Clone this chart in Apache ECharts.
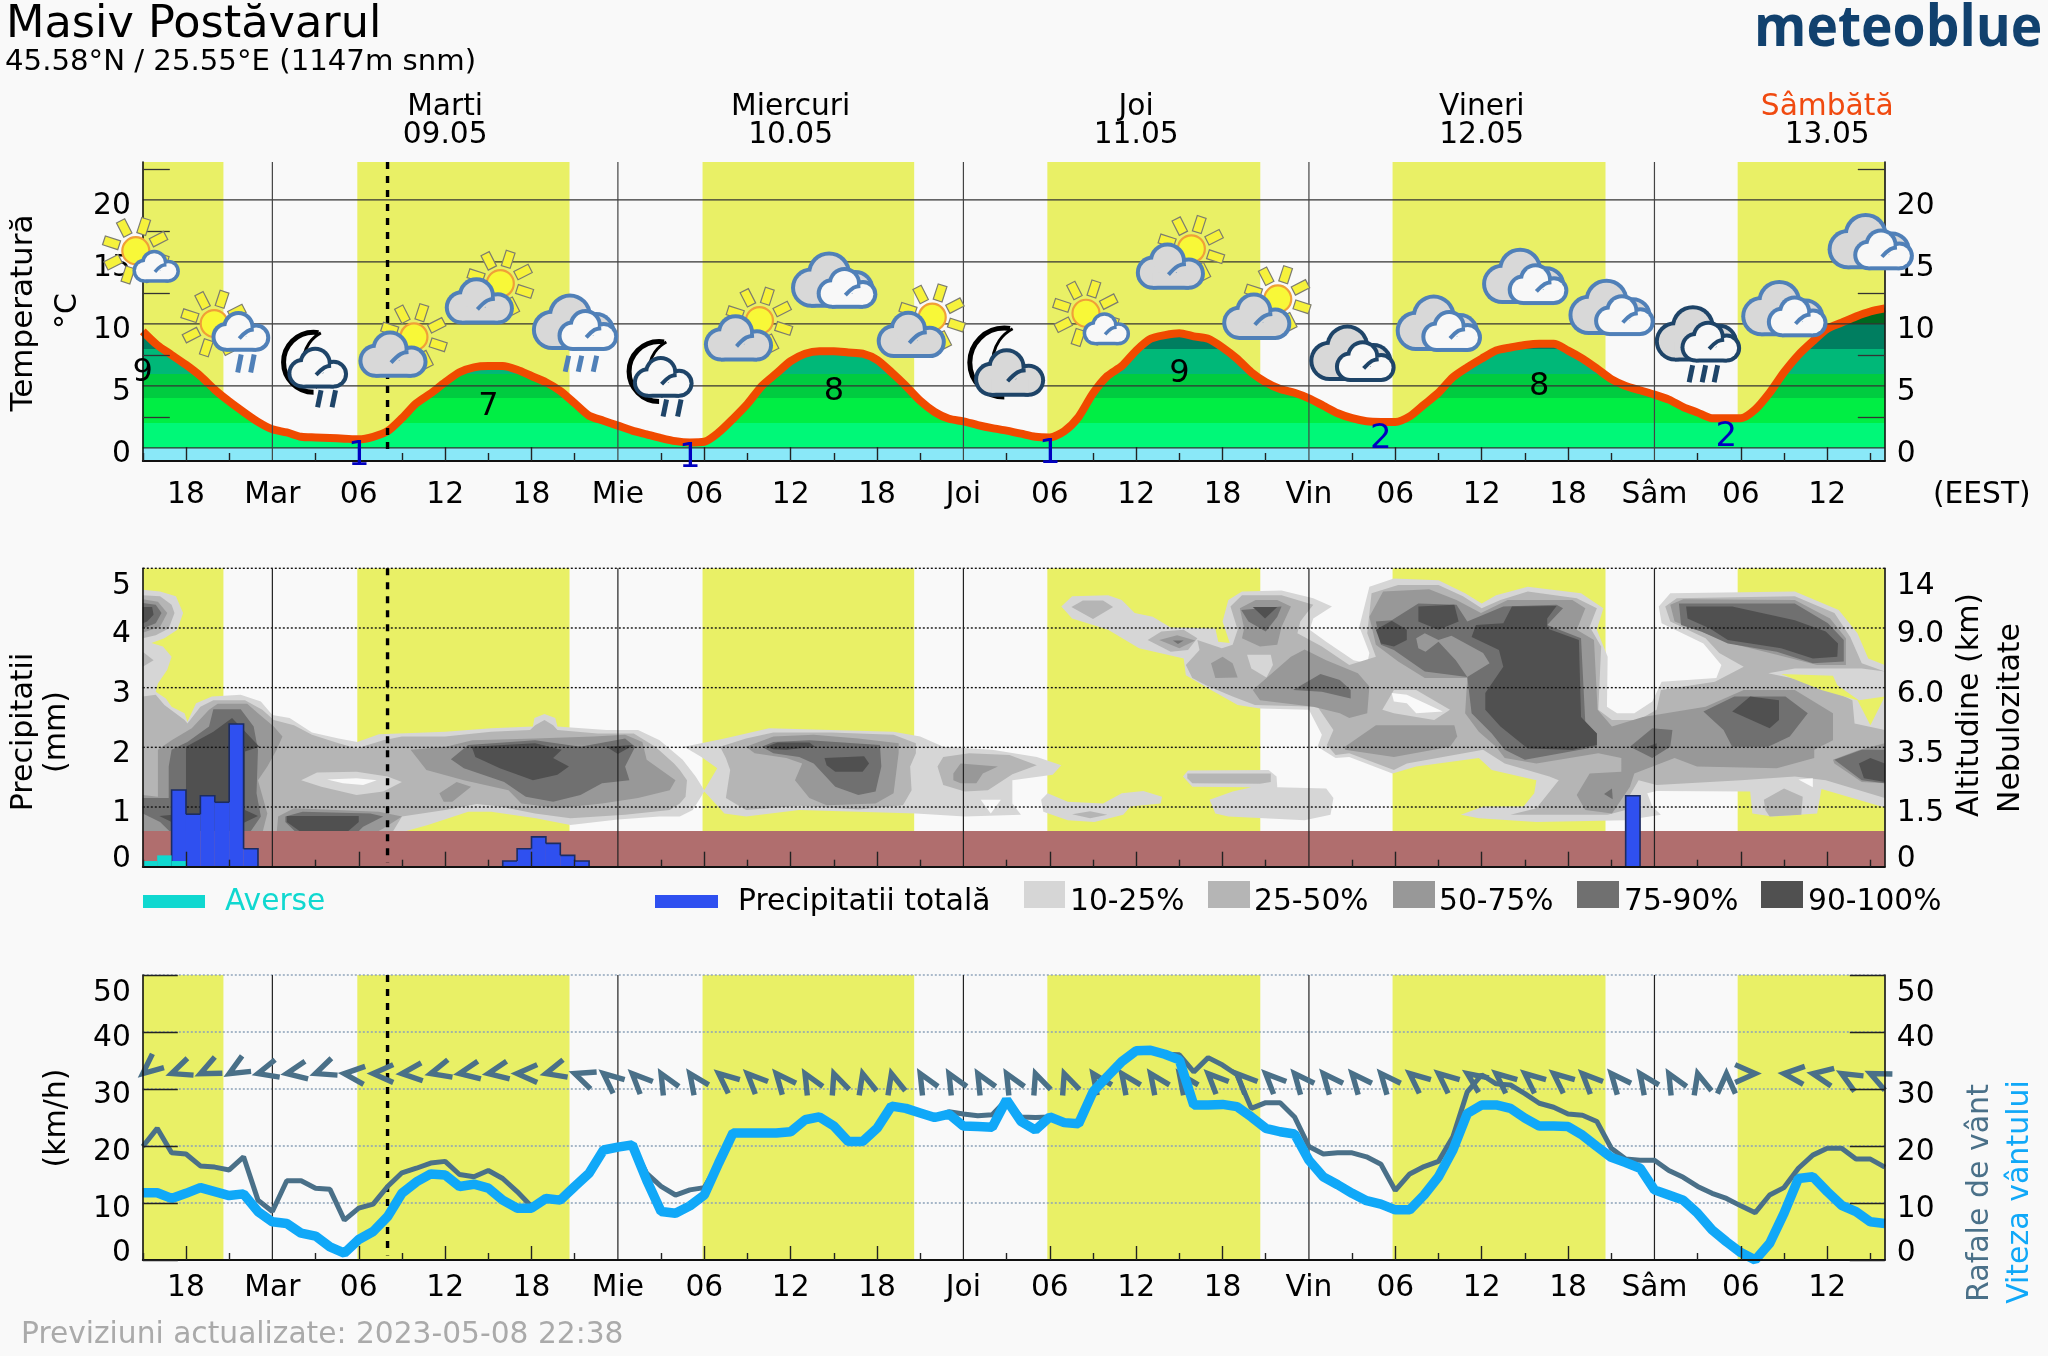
<!DOCTYPE html>
<html><head><meta charset="utf-8">
<style>html,body{margin:0;padding:0;background:#f9f9f9}#c{width:2048px;height:1356px}</style>
<script src="https://cdn.jsdelivr.net/npm/echarts@6/dist/echarts.min.js"></script>
</head><body><div id="c"></div>
<script>
// ---------- data (hours counted from 08.05 15:00) ----------
const temperature=[9.4,8.3,7.5,6.7,5.8,4.7,3.75,2.9,2.1,1.5,1.25,.9,.85,.8,.75,.7,.9,1.35,2.4,3.6,4.4,5.3,6.1,6.5,6.6,6.6,6.3,5.8,5.3,4.6,3.6,2.6,2.2,1.8,1.4,1.1,.8,.55,.45,.5,1.25,2.35,3.55,5,6,7,7.6,7.8,7.8,7.7,7.6,7.1,6.1,5,3.8,2.9,2.35,2.15,1.85,1.6,1.4,1.15,.9,.85,1.35,2.5,4.4,5.8,6.6,7.85,8.8,9.1,9.25,9,8.8,8.1,7.2,6.1,5.3,4.75,4.45,4,3.4,2.8,2.4,2.15,2.1,2.1,2.55,3.5,4.45,5.7,6.5,7.2,7.85,8.1,8.3,8.4,8.4,7.85,7.2,6.4,5.55,5,4.65,4.3,3.9,3.3,2.85,2.4,2.4,2.4,3.1,4.45,6.1,7.5,8.6,9.6,10.1,10.6,11,11.25];
const windSpeed=[11.8,11.8,10.8,11.7,12.7,12,11.3,11.6,8.5,6.7,6.4,4.7,4.2,2.3,1.2,3.6,5,7.6,11.7,13.7,15.1,14.9,12.9,13.3,12.6,10.5,9.1,9.1,10.8,10.5,12.9,15.2,19.3,19.8,20.2,14,8.5,8.2,9.5,11.4,17,22.3,22.3,22.3,22.3,22.5,24.6,25.1,23.5,20.8,20.8,23.1,27,26.6,25.8,25,25.6,23.5,23.4,23.3,28.1,24.3,22.8,25.1,24.1,23.9,29.5,32.2,34.8,36.7,36.8,36.1,35.1,27.2,27.2,27.3,26.9,25.1,23.1,22.5,22.1,17.5,14.6,13.2,11.7,10.4,9.8,8.8,8.8,11.4,14.6,19.3,25.7,27.2,27.2,26.6,24.9,23.5,23.5,23.4,21.9,19.9,18,17.1,16.1,12.3,11.4,10.5,8.2,5.3,3.2,1.3,0,2.9,8.2,14.3,14.6,12,9.6,8.5,6.7,6.4];
const windGust=[19.9,23.1,18.8,18.6,16.5,16.3,15.8,18.1,10.5,8.5,13.9,13.9,12.6,12.4,7,9.1,9.8,12.9,15.3,16.1,17,17.3,15,14.6,15.7,14.3,12,9.4,10.8,10.5,12.9,15.2,19.3,19.8,20.2,15.2,12.9,11.4,12.3,12.7,17,22.3,22.3,22.3,22.3,22.5,24.6,25.1,23.5,20.8,20.8,23.1,27,26.6,25.8,25,26,25.6,25.3,25.5,28.1,25.1,25,25.1,24.1,23.9,29.5,32.2,34.8,36.7,36.8,36.1,36,33,35.5,34.2,32.5,26.6,27.6,27.6,25.1,19.9,18.6,18.8,18.8,18.1,16.8,12.2,15.1,16.4,17.3,21.6,29.5,32.5,30.9,30.7,29.2,27.5,26.8,25.6,25.4,24.3,19.6,17.7,17.5,17.5,15.7,14.5,12.9,11.7,10.8,9.5,8.3,11.4,12.7,16.1,18.4,19.6,19.6,17.7,17.7,16.3];
const windArrowHeadings=[130,110,115,120,105,100,110,85,90,95,105,100,100,90,105,70,50,45,30,35,50,45,40,30,20,15,15,30,30,30,30,20,20,35,35,35,35,45,45,45,40,40,40,40,50,50,55,50,50,50,45,40,35,30,15,0,-90,85,80,60,65];
const windArrowLevel=32.7;
const showersMm=[[0,.095],[1,.19],[2,.095]];
const precipMm=[[2,1.285],[3,.88],[4,1.19],[5,1.08],[6,2.39],[7,.3],[25,.095],[26,.3],[27,.5],[28,.39],[29,.19],[30,.095],[103,1.19]];
const dayStart=[-1,14.9,38.88,62.83,86.81,110.78];
const dayEnd=[5.6,29.64,53.58,77.62,101.6,122];
const midnightHours=[9,33,57,81,105];
const dayNames=['Mar','Mie','Joi','Vin','Sâm'];
const nowHour=17;
const headerHours=[21,45,69,93,117];
const headerDays=['Marti','Miercuri','Joi','Vineri','Sâmbătă'];
const headerDates=['09.05','10.05','11.05','12.05','13.05'];
const maxHours=[0,24,48,72,97],maxValues=[9,7,8,9,8],maxLevels=[6.1,3.3,4.5,6,4.95];
const minHours=[15,38,63,86,110],minValues=[1,1,1,2,2],minLevels=[-.7,-.8,-.5,.7,.9];
const iconHours=[0,6,12,18,24,30,36,42,48,54,60,66,72,78,84,90,96,102,108,114,120];
const iconKinds=['A','B','C','D','D','E','C','D','G','D','F','A','D','D','H','G','G','G','I','G','G'];
const iconLevels=[15.9,10.03,7.07,7.5,11.8,10.1,6.33,8.82,13.5,9.09,7.07,10.86,14.6,10.56,7.6,10.02,13.8,11.3,9.17,11.2,16.6];
const tempTicks=[0,5,10,15,20],tempMinor=[2.5,7.5,12.5,17.5,22.5];
const altitudeLabels=['0','1.5','3.5','6.0','9.0','14'];
// cloud-cover contours: [hour, axis level]
const cloud10=[
[[0,4.64],[1.2,4.61],[2.3,4.53],[2.8,4.25],[2.4,3.97],[1.5,3.83],[.6,3.75],[1.4,3.69],[2,3.52],[1.7,3.3],[1.05,3.07],[.9,2.93],[1.6,2.82],[2,2.68],[2.9,2.57],[3.1,2.43],[3.7,2.74],[4.8,2.85],[6.8,2.88],[8.2,2.77],[9,2.54],[10.2,2.49],[11.75,2.25],[13.6,2.15],[14.9,2.09],[16.4,2.22],[21,2.26],[24.2,2.32],[27.1,2.35],[27.2,2.49],[27.9,2.56],[28.65,2.49],[28.8,2.35],[32.2,2.29],[34.4,2.29],[35.9,2.12],[37.5,1.79],[38.4,1.51],[39,1.28],[39.9,1.65],[38.8,1.84],[37.6,2.01],[40.4,2.15],[43.5,2.32],[47.8,2.29],[52.15,2.26],[54,2.18],[55.6,2.01],[59,1.96],[62.1,1.84],[63.8,1.7],[63.2,1.54],[60.4,1.45],[60.4,1.06],[61,.87],[57.1,.84],[53.7,.89],[45.6,.95],[41.9,.84],[40.4,.89],[39,1.26],[38.2,.95],[37.3,.84],[35.9,.84],[33,.79],[29.7,.7],[27.3,.81],[24.2,.92],[22.6,.92],[19.8,.7],[18.3,.6],[18,.5],[0,.5]],
[[62.4,1.12],[62.85,1.23],[64.25,1.09],[66.7,1.06],[68,1.23],[69.5,1.27],[70.8,1.17],[70.7,1.06],[68.6,1.01],[68.1,.87],[66.1,.75],[64.25,.78],[62.55,.92]],
[[72.25,1.51],[72.6,1.61],[78.2,1.62],[78.75,1.51],[78.8,1.33],[82.2,1.31],[82.7,1.15],[82.5,.87],[80.7,.78],[75.4,.84],[74.5,.89],[74.1,1.12],[75.7,1.26],[77,1.33],[72.9,1.34]],
[[63.8,4.36],[64.55,4.53],[67.05,4.55],[68,4.47],[68.9,4.25],[70.15,4.19],[71.4,4.01],[74.5,3.99],[74.7,3.77],[75.5,3.75],[75,4.11],[75.4,4.47],[76.35,4.61],[79.1,4.63],[81.3,4.5],[82.6,4.36],[81.3,4.16],[81.05,3.97],[82.2,3.77],[84.1,3.46],[85.05,3.41],[85.2,3.58],[84.5,4.02],[85.2,4.69],[86.9,4.83],[90,4.8],[91.85,4.58],[93,4.41],[94,4.55],[96.2,4.69],[99.9,4.58],[101.45,4.33],[101,3.97],[101.75,3.52],[101.7,2.68],[102.4,2.57],[103.6,2.57],[104.85,2.77],[105.5,3.1],[109.3,3.16],[109.65,3.38],[108.4,3.74],[105.5,4.08],[105.3,4.36],[106.1,4.58],[114.75,4.61],[117.8,4.3],[119.1,3.91],[119.85,3.49],[121,3.38],[121,.99],[116.6,1.3],[116.3,.89],[113.2,.84],[111.8,.89],[111.65,1.26],[105.15,1.27],[104.5,1.23],[104.85,1.01],[105.45,.87],[103,.78],[96.8,.75],[92.8,.81],[91.55,.87],[93.1,1.01],[95.9,1.01],[96.65,1.23],[96.8,1.45],[93.7,1.62],[92.8,1.82],[88.45,1.68],[86.8,1.56],[83.8,1.84],[82.85,1.82],[81.6,2.01],[81.9,2.21],[81,2.63],[77.6,2.65],[76.05,2.71],[74.2,2.96],[72.45,3.21],[72.3,3.49],[69.2,3.66],[67.05,3.97],[64.55,4.16]]
];
const cloud25=[
[[0,4.55],[1.2,4.53],[2,4.39],[2.2,4.25],[1.8,3.99],[.9,3.88],[0,3.83]],
[[0,3.6],[.75,3.46],[0,3.35]],
[[0,2.85],[.9,2.88],[1.5,2.71],[2.9,2.46],[3.1,2.4],[4,2.68],[4.9,2.79],[7.1,2.79],[8.3,2.63],[9.1,2.46],[10.5,2.37],[11.75,2.21],[13.6,2.07],[14.85,1.98],[16.7,2.12],[18,2.18],[21,2.18],[24.2,2.26],[26.9,2.29],[27.25,2.37],[27.9,2.46],[28.5,2.37],[28.8,2.29],[31.6,2.23],[34.1,2.23],[35.6,2.01],[36.9,1.73],[37.3,1.62],[37.8,1.45],[37.7,1.17],[37.3,1.06],[36.6,.95],[33.5,.87],[29.7,.81],[27.25,.89],[24.8,1.01],[23.2,1.05],[21,.95],[18,.84],[17.3,.56],[0,.56]],
[[40.1,2.01],[41.9,2.15],[43.8,2.25],[47.8,2.25],[52.15,2.21],[53.7,2.07],[53.7,1.9],[53.3,1.68],[53.4,1.28],[52.8,1.03],[49.7,.96],[45.6,1.02],[41.9,.95],[40.5,1.15],[40.8,1.62],[40.5,1.82]],
[[55.2,1.68],[55.6,1.84],[57.4,1.9],[60.2,1.87],[62.1,1.7],[60.4,1.55],[58.7,1.28],[57.1,1.26],[55.6,1.37]],
[[64.55,.88],[65.8,.93],[67,.87],[65.8,.81]],
[[72.55,1.56],[78.35,1.56],[78.35,1.42],[77.6,1.39],[72.9,1.4],[72.55,1.48]],
[[64.5,4.35],[65.3,4.46],[66.7,4.46],[67.4,4.35],[66,4.15]],
[[69.8,3.8],[70.75,3.94],[72.3,3.97],[73.25,3.83],[72.6,3.63],[71.4,3.6]],
[[72.45,3.38],[73.4,3.63],[73.25,3.8],[74.95,3.66],[75.7,3.72],[76.05,3.97],[75.55,4.36],[76.35,4.55],[79.1,4.55],[81.3,4.39],[80.4,4.11],[80.2,3.91],[81.9,3.69],[83.8,3.38],[85.65,3.52],[85.05,3.91],[85.35,4.58],[87.2,4.72],[90,4.72],[91.7,4.53],[93,4.33],[94.3,4.47],[96.2,4.61],[99.6,4.5],[101,4.33],[100.5,4.02],[101.3,3.69],[101.1,2.63],[102.05,2.46],[103.9,2.46],[105.15,2.63],[105.45,2.96],[109.2,3.1],[111.2,3.35],[109.5,3.58],[108.55,3.83],[106.1,4.11],[105.75,4.36],[106.55,4.5],[114.75,4.53],[117.5,4.25],[118.6,3.85],[119.4,3.41],[121,3.27],[119.4,3.32],[114.75,3.32],[112.9,3.24],[116.3,3.07],[118.75,2.79],[118.9,2.4],[121,2.29],[121,1.15],[116.9,1.45],[114.75,1.51],[111,1.45],[105.15,1.37],[103.9,1.45],[103.3,1.2],[103,.95],[101.75,.87],[95,.87],[96.8,.98],[98.35,1.45],[97.7,1.51],[94.6,1.73],[93.1,1.96],[87.8,1.73],[86.9,1.62],[83.8,1.9],[82.85,1.87],[82.25,2.04],[82.7,2.29],[81.6,2.68],[77.25,2.71],[75.7,2.85],[73.85,3.04],[72.9,3.16]],
[[112.6,1.12],[114,1.31],[115.3,1.17],[115.2,.87],[113,.84],[112.7,.95]]
];
const cloudGap10=[
[[11,1.45],[12.1,1.58],[14.85,1.59],[17,1.51],[18,1.42],[16.7,1.26],[14.85,1.2],[12.4,1.34]],
[[86.1,2.63],[86.9,2.96],[88.45,2.96],[90.8,2.63],[89.7,2.46],[86.9,2.57]],
[[76.7,3.55],[78.35,3.55],[78.5,3.38],[78.05,3.17],[77,3.32]]
];
const cloudGapClear=[
[[12.8,1.46],[14.85,1.48],[16.25,1.45],[15.3,1.37],[13.9,1.4]],
[[58.2,1.12],[59.6,1.12],[58.9,.89]],
[[86.75,2.91],[87.8,2.88],[90.3,2.6],[88.45,2.57],[87.8,2.74],[86.9,2.77]],
[[115,1.46],[116,1.48],[116,1.33]]
];
const cloudGapDay=[[[113.8,3.23],[117.4,3.2],[117.7,3.04],[119.2,2.79],[121,2.85],[120,2.37],[119.1,2.79],[116.6,2.96]]];
const cloud50=[
[[0,4.48],[1.05,4.44],[1.7,4.25],[1.2,4.02],[0,3.92]],
[[0,1.2],[1.05,1.17],[1.05,1.96],[2,2.12],[3.4,2.32],[4.6,2.63],[5.2,2.73],[7.25,2.73],[8,2.57],[9.1,2.35],[9.7,2.18],[9.3,1.96],[8.65,1.68],[8,1.45],[8.65,.89],[8.3,.56],[0,.56]],
[[9.4,.84],[10.5,.98],[16.4,.92],[18,.84],[16.7,.64],[16.1,.56],[9.3,.56]],
[[18.6,1.96],[21.05,2.01],[22.9,2.12],[27.25,2.15],[31.3,2.18],[33.5,2.21],[34.7,2.09],[35,1.79],[37,1.45],[36.6,1.28],[34.4,1.15],[31.9,1.06],[28.8,.98],[26.3,1.06],[25.4,1.28],[22.3,1.45],[19.7,1.62]],
[[20.6,1.23],[21.8,1.42],[22.8,1.34],[21.5,1.09],[20.9,1.09]],
[[41.9,2.01],[43.8,2.18],[46.6,2.21],[49.7,2.15],[52.5,2.07],[52.5,1.9],[52.15,1.23],[50.9,1.06],[47.5,1.03],[46.3,1.15],[45.3,1.45],[45.8,1.73],[44.7,1.82],[42.5,1.9]],
[[56.3,1.56],[56.8,1.73],[59.4,1.68],[58.35,1.56],[57.9,1.4],[56.8,1.4],[56.3,1.45]],
[[76.2,4.33],[77.3,4.47],[78.8,4.47],[79.75,4.36],[79.1,4.02],[78.8,3.72],[77.6,3.69],[76.35,3.83],[76.5,3.99]],
[[74.2,3.41],[75,3.52],[75.7,3.41],[76.05,3.17],[74.5,3.16]],
[[70.6,3.8],[71.85,3.88],[73.1,3.79],[72,3.66]],
[[77.1,2.96],[79.75,3.52],[80.7,3.64],[82.2,3.46],[84.4,3.24],[85.2,3.02],[85.05,2.57],[83.8,2.49],[83.15,2.57],[81.3,2.68],[77.6,2.79]],
[[83.5,2.01],[85.65,2.37],[91.1,2.37],[91.3,2.18],[90.8,2.01],[86.9,1.84],[83.5,1.96]],
[[85.2,4.19],[86.15,4.61],[89.35,4.65],[91.25,4.47],[92.95,4.25],[94.8,4.47],[99.3,4.47],[100.2,4.33],[99.6,3.97],[100.8,3.8],[101.05,2.63],[102.05,2.35],[104.2,2.51],[108.55,2.68],[111.2,2.96],[114.75,2.96],[117.4,2.57],[117.4,2.12],[116.1,1.96],[116.1,1.82],[113.5,1.65],[107.95,1.68],[106.4,1.82],[103.6,1.56],[103.3,1.34],[102.05,.89],[100.2,.95],[99.6,1.2],[100.5,1.56],[102.7,1.59],[102.7,1.82],[101.1,1.9],[96.8,1.73],[94.6,1.82],[94,2.01],[92.8,2.26],[91.85,2.57],[92,3.16],[89.05,3.16],[87.2,3.44],[85.65,3.72]],
[[117.4,1.79],[119.25,1.96],[121,2.07],[121,1.4],[119.4,1.42],[117.5,1.73]],
[[106.1,4.39],[107,4.48],[114.75,4.47],[117.2,4.16],[118.3,3.83],[118.3,3.38],[116.3,3.38],[113.5,3.55],[110.7,3.72],[108.55,3.91],[106.4,4.11]]
];
const cloud75=[
[[0,4.42],[.9,4.39],[1.3,4.25],[.9,4.08],[0,3.99]],
[[1.8,1.15],[0,1.15],[0,.89],[1.2,.75],[2,.56],[7.4,.56],[8.2,.84],[7.9,1.23],[8,1.96],[7.7,2.35],[6.8,2.64],[4.9,2.64],[4.6,2.35],[3.1,2.09],[2,1.96],[1.8,1.68]],
[[9.9,.84],[11.1,.92],[15.8,.89],[16.7,.84],[15.3,.67],[14.85,.56],[10.7,.56],[9.9,.75]],
[[21.4,1.8],[22.6,2.04],[27.25,2.12],[30.4,2.01],[33.5,2.15],[34.2,2.01],[33.5,1.68],[33.8,1.45],[31.9,1.4],[30.4,1.2],[28.5,1.09],[26.6,1.17],[25.1,1.42],[22.3,1.65]],
[[43,2.01],[43.8,2.09],[46.3,2.12],[51.2,2.04],[51.3,1.68],[50.9,1.26],[49.7,1.2],[48.1,1.34],[46.6,1.73],[45.6,1.84],[43.8,1.9]],
[[71.55,3.79],[72.3,3.79],[71.9,3.73]],
[[76.3,4.3],[79.1,4.36],[78.8,4.19],[78,3.94],[76.8,4.11]],
[[79.9,2.96],[81.8,3.23],[83.15,3.13],[83.9,2.96],[83.9,2.82],[81.9,2.93]],
[[85.65,4.11],[86.75,4.13],[88.6,4.41],[91.25,4.39],[92,4.11],[94.5,4.36],[98.2,4.39],[98.65,4.33],[97.55,4.05],[99.9,3.83],[100.2,2.4],[101,2.23],[101,2.01],[96,1.79],[94.6,1.96],[93.7,2.23],[92.3,2.57],[92,3.18],[89.05,3.27],[86.9,3.63],[86,3.72]],
[[103.3,2.01],[104.85,2.32],[106.25,2.29],[106.1,2.01],[104.85,1.82]],
[[108.4,2.6],[110.55,2.85],[114.1,2.85],[115.65,2.57],[114.4,2.18],[112.9,2.01],[110.4,2.01],[109.8,2.29]],
[[106.7,4.41],[114.75,4.41],[117.05,4.08],[118.15,3.8],[118.15,3.44],[116,3.41],[113.5,3.6],[110.1,3.74],[108.25,3.94],[106.85,4.05]],
[[117.5,1.79],[119.4,1.96],[121,1.96],[121,1.4],[119.4,1.45]],
[[101.5,1.22],[102.05,1.31],[102.1,1.13]]
];
const cloudIsland50=[[[88.45,3.83],[89.05,3.91],[90,3.8],[90.9,3.87],[93.1,3.58],[93.55,3.41],[92,3.18],[91.2,3.46],[90,3.77],[89.1,3.6],[88.6,3.66]]];
const cloud90=[
[[0,4.35],[.65,4.35],[.75,4.22],[.3,4.11],[0,4.08]],
[[3,2.01],[4.9,2.26],[6.2,2.49],[7,2.29],[8.1,2.01],[7.1,1.93],[7.1,.95],[8,.85],[6.95,.73],[6.2,.56],[3.4,.56],[2,.75],[1.15,.85],[3,.89]],
[[10,.85],[15,.85],[15,.75],[14.1,.56],[11.1,.56],[10,.75]],
[[22.85,2.01],[27.25,2.07],[29.1,1.96],[28.5,1.82],[29.6,1.68],[28.8,1.54],[27.1,1.45],[24.8,1.65],[23.1,1.84]],
[[32.2,2.01],[34.1,2.04],[33,1.89]],
[[43.3,2.01],[44.1,2.08],[46.3,2.08],[46.7,2.01],[44.7,1.96],[43.8,1.97]],
[[47.35,1.82],[50.1,1.85],[50.45,1.73],[50,1.59],[48.1,1.59],[47.5,1.7]],
[[77.1,4.35],[78.8,4.35],[77.95,4.16]],
[[85.65,3.97],[86.75,4.12],[87.8,3.97],[87.8,3.8],[86.9,3.69],[86,3.74]],
[[88.6,4.36],[91.1,4.39],[91.4,4.11],[90,3.97],[88.6,4.11]],
[[95.1,4.36],[98.2,4.37],[97.55,4.16],[97.55,3.99],[99.75,3.8],[99.9,2.51],[101,2.23],[101,2.04],[99.3,1.96],[96.2,1.98],[94.3,2.35],[93.25,2.63],[93.25,2.91],[94.5,3.35],[94.2,3.63],[92.3,3.85],[92.6,4.05],[94.5,4.08]],
[[104.5,2.01],[105.15,2.07],[105.15,1.96]],
[[110.4,2.6],[111.65,2.85],[113.65,2.79],[113.65,2.46],[113,2.32]],
[[107.2,4.36],[110.4,4.36],[114.75,4.13],[116.9,3.94],[117.75,3.74],[117.7,3.52],[116,3.49],[113.8,3.66],[110.1,3.8],[108.85,3.99],[107.3,4.16]],
[[119.2,1.73],[120,1.82],[121,1.73],[121,1.42],[119.55,1.48]]
];
const FONT='"DejaVu Sans"',SIZE=29.7;
const BG='#f9f9f9',DAY='#e9f066',GREY=['#d6d6d6','#b5b5b5','#989898','#707070','#505050'];
const BLUE='#5080b8',DARK='#1e4468',GUST='#4a7088',SPEED='#10a8f8',AVERSE='#10d8d0',PRECIP='#2f50f0';
const HMAX=121;
const grids=[{left:142.8,top:162,width:1742,height:299},{left:142.8,top:568.3,width:1742,height:298.4},{left:142.8,top:975,width:1742,height:285}];
const T_MIN=-1.05,T_MAX=23.05;
const tempY=t=>grids[0].top+(T_MAX-t)/(T_MAX-T_MIN)*grids[0].height;
const hourTicks=[];for(let h=0;h<=HMAX;h+=3)hourTicks.push(h);
const majorTicks=hourTicks.filter(h=>(h+15)%6===0&&(h+15)%24!==0);
const minorTicks=hourTicks.filter(h=>(h+15)%6!==0);
const labelHours=hourTicks.filter(h=>(h+15)%6===0);
const hourLabel=h=>{const d=(h+15)%24;return d===0?dayNames[(h-9)/24]:String(d).padStart(2,'0')};

const cust=(g,z,data,renderItem)=>({type:'custom',xAxisIndex:g,yAxisIndex:g,z,silent:true,animation:false,data,renderItem,clip:false});
const polySeries=(polys,color,z)=>cust(1,z,polys.map((_,i)=>[i,0]),(p,api)=>({type:'polygon',shape:{points:polys[p.dataIndex].map(q=>api.coord(q))},style:{fill:color}}));
const dayBands=(g,lo,hi)=>cust(g,1,dayStart.map((s,i)=>[Math.max(s,0),Math.min(dayEnd[i],HMAX)]),(p,api)=>{
  const a=api.coord([api.value(0),hi]),b=api.coord([api.value(1),lo]);
  return {type:'rect',shape:{x:a[0],y:a[1],width:b[0]-a[0],height:b[1]-a[1]},style:{fill:DAY}};});
const hRules=(g,vals,style,z)=>cust(g,z,vals.map(v=>[0,v]),(p,api)=>{
  const a=api.coord([0,api.value(1)]),b=api.coord([HMAX,api.value(1)]);
  return {type:'line',shape:{x1:a[0],y1:a[1],x2:b[0],y2:b[1]},style};});
const vRules=(g,hours,lo,hi,style,z)=>cust(g,z,hours.map(h=>[h,0]),(p,api)=>{
  const a=api.coord([api.value(0),hi]),b=api.coord([api.value(0),lo]);
  return {type:'line',shape:{x1:a[0],y1:a[1],x2:b[0],y2:b[1]},style};});
const hourBars=(rows,fill,z,edge)=>{
  const at=h=>{const q=rows.find(x=>x[0]===h);return q?q[1]:0;};
  return cust(1,z,rows,(p,api)=>{
    const h=api.value(0),v=api.value(1),a=api.coord([h,v]),b=api.coord([h+1,0]);
    const kids=[{type:'rect',shape:{x:a[0],y:a[1],width:b[0]-a[0],height:b[1]-a[1]},style:{fill}}];
    if(edge)kids.push({type:'polyline',shape:{points:[api.coord([h,Math.min(at(h-1),v)]),a,api.coord([h+1,v]),api.coord([h+1,Math.min(at(h+1),v)])]},style:{stroke:edge,lineWidth:1.6,fill:'none'}});
    return {type:'group',children:kids};});
};
const bandRect=(g,lo,hi,fill,z)=>cust(g,z,[[0,lo]],(p,api)=>{
  const a=api.coord([0,hi]),b=api.coord([HMAX,lo]);
  return {type:'rect',shape:{x:a[0],y:a[1],width:b[0]-a[0],height:b[1]-a[1]},style:{fill}};});
const tempText=(hs,vals,lv,color,size)=>cust(0,15,hs.map((h,i)=>[h,lv[i]]),(p,api)=>{
  const c=api.coord([api.value(0),api.value(1)]);
  return {type:'text',x:c[0],y:c[1],style:{text:String(vals[p.dataIndex]),fill:color,font:size+'px '+FONT,textAlign:'center',textVerticalAlign:'middle'}};});

// ---------- icon pieces ----------
function cloudPart(cx,cy,w,fill,stroke,lw){
  const s=w/67,parts=[[-19,6,13.5],[-4,-6,15],[18,7,12.5]],out=[];
  const rc={x:cx-19*s,y:cy+6*s,width:37*s,height:13.5*s};
  parts.forEach(c=>out.push({type:'circle',shape:{cx:cx+c[0]*s,cy:cy+c[1]*s,r:c[2]*s+lw},style:{fill:stroke}}));
  out.push({type:'rect',shape:{x:rc.x,y:rc.y,width:rc.width,height:rc.height+lw},style:{fill:stroke}});
  parts.forEach(c=>out.push({type:'circle',shape:{cx:cx+c[0]*s,cy:cy+c[1]*s,r:c[2]*s},style:{fill}}));
  out.push({type:'rect',shape:rc,style:{fill}});
  out.push({type:'polyline',shape:{points:[[cx-3*s,cy+8*s],[cx+7*s,cy-1*s],[cx+15*s,cy-3*s]],smooth:.4},style:{stroke,lineWidth:lw,fill:'none'}});
  return out;
}
function sunPart(cx,cy,r){
  const out=[];
  [27,72,117,162,207,252,297,342].forEach(d=>{
    const a=d*Math.PI/180,ux=Math.cos(a),uy=-Math.sin(a),nx=-uy,ny=ux,r1=r+4,r2=r+20,hw=4.6;
    out.push({type:'polygon',shape:{points:[[cx+ux*r1+nx*hw,cy+uy*r1+ny*hw],[cx+ux*r2+nx*hw,cy+uy*r2+ny*hw],[cx+ux*r2-nx*hw,cy+uy*r2-ny*hw],[cx+ux*r1-nx*hw,cy+uy*r1-ny*hw]]},style:{fill:'#f6f23c',stroke:'#7c7c70',lineWidth:1.2}});
  });
  out.push({type:'circle',shape:{cx,cy,r},style:{fill:'#f8f838',stroke:'#f0a038',lineWidth:2.2}});
  return out;
}
function moonPart(ox,oy,s){
  const rad=d=>d*Math.PI/180;
  return [
   {type:'arc',shape:{cx:ox-2*s,cy:oy+2*s,r:30*s,startAngle:rad(90),endAngle:rad(279.5),clockwise:true},style:{stroke:'#000',lineWidth:5,fill:'none'}},
   {type:'arc',shape:{cx:ox+20*s,cy:oy+1*s,r:32*s,startAngle:rad(124.6),endAngle:rad(242.6),clockwise:true},style:{stroke:'#000',lineWidth:3,fill:'none'}}];
}
const rainPart=(tops,dx,y1,y2,color)=>tops.map(x=>({type:'line',shape:{x1:x,y1,x2:x-dx,y2},style:{stroke:color,lineWidth:5}}));
const doublePart=color=>cloudPart(0,0,80,'#d8d8d8',color,4).concat(cloudPart(14,8,56,'#f8f8f8',color,4));
const iconBuilders={
 A:()=>sunPart(-7,0,13.5).concat(cloudPart(14,16,43,'#f8f8f8',BLUE,3.5)),
 B:()=>sunPart(-15,0,13.5).concat(rainPart([12,25],3.5,31,49,BLUE),cloudPart(12.5,8.5,54,'#f8f8f8',BLUE,4)),
 C:()=>moonPart(0,0,1).concat(rainPart([5.5,20],3.5,30,47,DARK),cloudPart(3,8,56,'#f8f8f8',DARK,4)),
 D:()=>sunPart(12,-18,13.5).concat(cloudPart(-8,0,65,'#d8d8d8',BLUE,4)),
 E:()=>rainPart([-6,7,22],3.5,33,49,BLUE).concat(doublePart(BLUE)),
 F:()=>moonPart(0,0,1.15).concat(cloudPart(4,13,67,'#d8d8d8',DARK,4)),
 G:()=>doublePart(BLUE),
 H:()=>doublePart(DARK),
 I:()=>rainPart([-5,8,20],3.5,31,48,DARK).concat(doublePart(DARK))
};
const windArrow=(p,api)=>{
  const c=api.coord([api.value(0),api.value(1)]),th=windArrowHeadings[p.dataIndex]*Math.PI/180;
  const arm=(d)=>[c[0]+22*Math.sin(th+d),c[1]+22*Math.cos(th+d)];
  return {type:'polyline',shape:{points:[arm(.42),c,arm(-.42)]},style:{stroke:GUST,lineWidth:5.4,fill:'none'}};
};

const band=[[0,'#00f878'],[2,'#00ee44'],[4,'#00cc40'],[6,'#00b878'],[8,'#007e60'],[10,'#00681f'],[12,'#00681f']];
const stops=[];band.slice(0,-1).forEach((b,i)=>{stops.push({offset:1-b[0]/12,color:b[1]});stops.push({offset:1-band[i+1][0]/12,color:b[1]});});
stops.reverse();
const areaGradient=new echarts.graphic.LinearGradient(0,tempY(12),0,tempY(0),stops,true);
const series=[];
[[0,T_MIN,T_MAX],[1,0,5],[2,0,50]].forEach(g=>series.push(dayBands(g[0],g[1],g[2])));
series.push(bandRect(0,T_MIN,0,'#8ae8f8',3));
series.push({type:'line',xAxisIndex:0,yAxisIndex:0,z:4,silent:true,animation:false,showSymbol:false,smooth:.25,data:temperature.map((t,h)=>[h,t]),lineStyle:{color:'#f04a00',width:8},areaStyle:{color:areaGradient,opacity:1}});
series.push(hRules(0,[0,5,10,15,20],{stroke:'#333',lineWidth:1.2},5));
series.push(vRules(0,midnightHours,T_MIN,T_MAX,{stroke:'#444',lineWidth:1.2},5));
series.push(vRules(0,[nowHour],-.4,T_MAX,{stroke:'#000',lineWidth:3.4,lineDash:[7,7]},7));
series.push(tempText(maxHours,maxValues,maxLevels,'#000',32));
series.push(tempText(minHours,minValues,minLevels,'#0000c0',34));
series.push(cust(0,20,iconHours.map((h,i)=>[h,iconLevels[i]]),(p,api)=>{
  const c=api.coord([api.value(0),api.value(1)]);
  return {type:'group',x:c[0],y:c[1],children:iconBuilders[iconKinds[p.dataIndex]]()};}));
// clouds
series.push(polySeries(cloud10,GREY[0],2));
series.push(polySeries(cloud25,GREY[1],2.1));
series.push(polySeries(cloudGap10,GREY[0],2.2));
series.push(polySeries(cloudGapClear,BG,2.3));
series.push(polySeries(cloudGapDay,DAY,2.3));
series.push(polySeries(cloud50,GREY[2],2.4));
series.push(polySeries(cloud75,GREY[3],2.5));
series.push(polySeries(cloudIsland50,GREY[2],2.6));
series.push(polySeries(cloud90,GREY[4],2.7));
series.push(bandRect(1,0,.6,'#b06e6e',3));
series.push(hRules(1,[1,2,3,4,5],{stroke:'#111',lineWidth:1.4,lineDash:[2,2]},4));
series.push(hourBars(precipMm,PRECIP,5,'#1c2c60'));
series.push(hourBars(showersMm,AVERSE,5.1,null));
series.push(vRules(1,midnightHours,0,5,{stroke:'#222',lineWidth:1.2},6));
series.push(vRules(1,[nowHour],.07,5,{stroke:'#000',lineWidth:3.4,lineDash:[7,7]},7));
// wind
series.push(hRules(2,[10,20,30,40,50],{stroke:'#8aa0b8',lineWidth:1.4,lineDash:[2,2]},3));
series.push(vRules(2,midnightHours,0,50,{stroke:'#222',lineWidth:1.2},3));
series.push(vRules(2,[nowHour],.8,50,{stroke:'#000',lineWidth:3.4,lineDash:[7,7]},4));
series.push({type:'line',xAxisIndex:2,yAxisIndex:2,z:5,silent:true,animation:false,showSymbol:false,data:windGust.map((v,h)=>[h,v]),lineStyle:{color:GUST,width:5}});
series.push(cust(2,6,windArrowHeadings.map((_,i)=>[i*2,windArrowLevel]),windArrow));
series.push({type:'line',xAxisIndex:2,yAxisIndex:2,z:7,silent:true,animation:false,showSymbol:false,clip:false,data:windSpeed.map((v,h)=>[h,v]),lineStyle:{color:SPEED,width:9.5}});

const axisText={color:'#000',fontFamily:FONT,fontSize:SIZE};
const richOf=pad=>({color:'#000',fontFamily:FONT,fontSize:SIZE,padding:pad});
const yRich={m:richOf([13,0,0,0]),t:richOf([36,0,0,0]),b:richOf([0,0,14,0])};
const markRich=(v,lo,hi,s)=>v===hi?`{t|${s}}`:v===lo?`{b|${s}}`:`{m|${s}}`;
const xMajor=(g,tickLen,margin)=>({type:'value',gridIndex:g,position:'bottom',min:0,max:HMAX,z:8,
  axisLine:{show:true,onZero:false,lineStyle:{color:'#111',width:2}},
  axisTick:{show:true,inside:true,length:tickLen,customValues:majorTicks,lineStyle:{color:'#222',width:1.4}},
  axisLabel:{show:g!==1,customValues:labelHours,formatter:v=>hourLabel(v),margin,hideOverlap:false,...axisText},splitLine:{show:false}});
const xMinor=(g,tickLen)=>({type:'value',gridIndex:g,position:'bottom',min:0,max:HMAX,z:8,
  axisLine:{show:false,onZero:false},axisTick:{show:true,inside:true,length:tickLen,customValues:minorTicks,lineStyle:{color:'#222',width:1.4}},
  axisLabel:{show:false},splitLine:{show:false}});
const yBase=(g,pos)=>({type:'value',gridIndex:g,position:pos,z:8,splitLine:{show:false},
  axisLine:{show:true,onZero:false,lineStyle:{color:'#111',width:1.6}}});
const yTemp=pos=>({...yBase(0,pos),min:T_MIN,max:T_MAX,
  axisTick:{show:true,inside:true,length:27,customValues:tempMinor,lineStyle:{color:'#333',width:1.3}},
  axisLabel:{customValues:tempTicks,margin:12,formatter:v=>`{m|${v}}`,rich:yRich,...axisText}});
const yPrec=(pos,names)=>({...yBase(1,pos),min:0,max:5,interval:1,axisTick:{show:false},
  axisLabel:{margin:12,formatter:v=>markRich(v,0,5,names?names[v]:v),rich:yRich,...axisText}});
const yWind=pos=>({...yBase(2,pos),min:0,max:50,interval:10,
  axisTick:{show:true,inside:true,length:35,lineStyle:{color:'#222',width:1.4}},
  axisLabel:{margin:12,formatter:v=>markRich(v,0,50,v),rich:yRich,...axisText}});

const t=(text,x,y,opt={})=>({type:'text',x:opt.rot?x+4:x,y:opt.rot?y:y+4,rotation:opt.rot?Math.PI/2:0,scaleX:opt.sx||1,silent:true,z:30,style:{text,fill:opt.fill||'#000',font:(opt.weight?opt.weight+' ':'')+(opt.size||SIZE)+'px '+(opt.family||FONT),textAlign:opt.align||(opt.rot?'center':'left'),textVerticalAlign:'middle'}});
const r=(x,y,w,h,fill)=>({type:'rect',silent:true,z:30,shape:{x,y,width:w,height:h},style:{fill}});
const graphic=[
 t('Masiv Postăvarul',6,21,{size:44.6}),
 t('45.58°N / 25.55°E (1147m snm)',5,58,{size:29.2}),
 t('meteoblue',1754,25,{size:58,weight:700,family:'"Open Sans"',fill:'#11416e',sx:.92}),
 t('(EEST)',1933,491),
 t('Temperatură',20,313,{rot:1,size:31}),t('°C',64,311,{rot:1,size:30}),
 t('Precipitatii',20,732,{rot:1,size:30}),t('(mm)',53,732,{rot:1,size:30}),
 t('Altitudine (km)',1966,705,{rot:1,size:30}),t('Nebulozitate',2007,718,{rot:1,size:30}),
 t('(km/h)',53,1118,{rot:1,size:30}),
 t('Rafale de vânt',1976,1193,{rot:1,fill:GUST,size:30}),t('Viteza vântului',2016,1192,{rot:1,fill:SPEED,size:30}),
 t('Previziuni actualizate: 2023-05-08 22:38',21,1331,{fill:'#aaa'}),
 r(143,895,62,13,AVERSE),t('Averse',225,898,{fill:AVERSE}),
 r(655,895,63,13,PRECIP),t('Precipitatii totală',738,898),
 r(1024,881,41,27,GREY[0]),t('10-25%',1070,898),
 r(1208,881,42,27,GREY[1]),t('25-50%',1254,898),
 r(1393,881,42,27,GREY[2]),t('50-75%',1439,898),
 r(1577,881,42,27,GREY[3]),t('75-90%',1624,898),
 r(1761,881,42,27,GREY[4]),t('90-100%',1808,898)
];
const chart=echarts.init(document.getElementById('c'),null,{renderer:'canvas',width:2048,height:1356});
chart.setOption({
 animation:false,backgroundColor:BG,grid:grids,
 xAxis:[xMajor(0,14,19),xMajor(1,15,10),xMajor(2,14,13),xMinor(0,8),xMinor(1,7),xMinor(2,7),
  {type:'value',gridIndex:0,position:'top',min:0,max:HMAX,axisLine:{show:false},axisTick:{show:false},splitLine:{show:false},
   axisLabel:{customValues:headerHours,margin:13,lineHeight:28,fontFamily:FONT,fontSize:SIZE,color:'#000',align:'center',
    formatter:v=>{const i=headerHours.indexOf(v);return (i===4?'{o|':'{k|')+headerDays[i]+'}\n{k|'+headerDates[i]+'}';},
    rich:{o:{color:'#f04a10',fontFamily:FONT,fontSize:SIZE,lineHeight:28},k:{color:'#000',fontFamily:FONT,fontSize:SIZE,lineHeight:28}}}}],
 yAxis:[yTemp('left'),yPrec('left'),yWind('left'),yTemp('right'),yPrec('right',altitudeLabels),yWind('right')],
 series,graphic
});
</script></body></html>
